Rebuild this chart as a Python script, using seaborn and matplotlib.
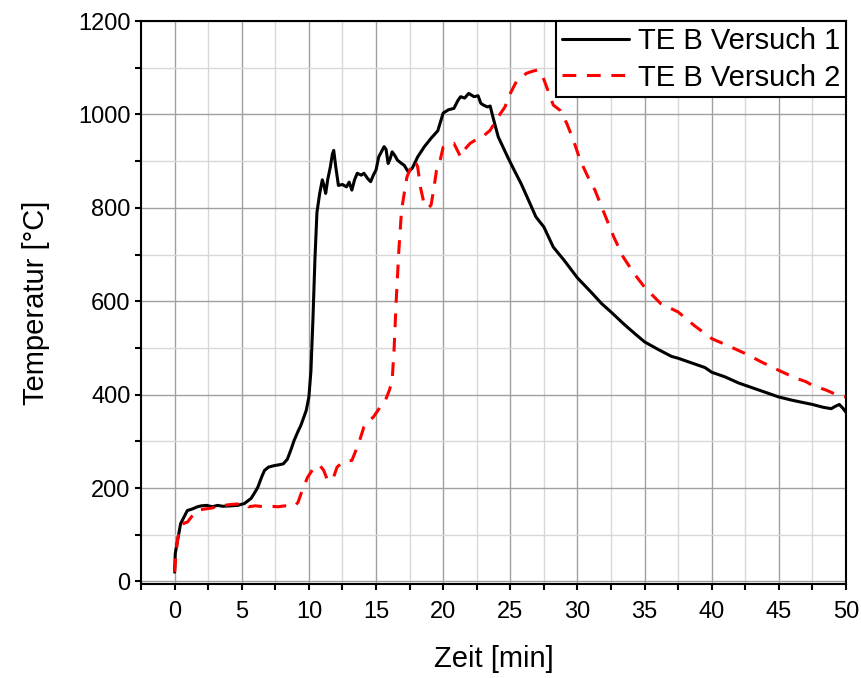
import numpy as np
import pandas as pd
import matplotlib
matplotlib.use('Agg')
import matplotlib.pyplot as plt
from matplotlib.ticker import MultipleLocator
import seaborn as sns

# TE B Versuch 1 (black, solid)
t1 = [0, 0.05, 0.2, 0.45, 0.95, 1.3, 1.7, 2.0, 2.4, 2.8, 3.2, 3.6, 4.2, 4.7, 5.2, 5.7, 6.0, 6.2, 6.5, 6.7,
      7.0, 7.4, 7.8, 8.1, 8.4, 8.7, 8.9, 9.2, 9.4, 9.6, 9.8, 10.0, 10.15, 10.3, 10.45, 10.6, 10.8, 11.0, 11.15, 11.25,
      11.4, 11.6, 11.75, 11.85, 12.0, 12.2, 12.5, 12.8, 13.0, 13.2, 13.4, 13.6, 13.9, 14.1, 14.4, 14.6, 14.8, 15.0, 15.2, 15.4,
      15.6, 15.75, 15.9, 16.05, 16.2, 16.4, 16.6, 16.9, 17.1, 17.4, 17.7, 18.1, 18.6, 19.1, 19.6, 20.0, 20.4, 20.8, 21.1, 21.3,
      21.6, 21.9, 22.3, 22.6, 22.8, 23.0, 23.3, 23.5, 23.7, 24.1, 24.8, 25.3, 25.8, 26.3, 26.9, 27.5, 28.2, 29.0, 30.0, 31.0,
      31.8, 32.5, 33.5, 34.3, 35.0, 36.0, 37.0, 37.5, 38.5, 39.5, 40.0, 41.0, 42.0, 42.5, 43.5, 44.5, 45.0, 46.0, 47.0, 47.5,
      48.3, 48.9, 49.2, 49.5, 49.8, 50.0]
temp1 = [20, 60, 85, 124, 152, 155, 160, 162, 163, 160, 163, 161, 162, 163, 167, 178, 192, 202, 225, 238,
         245, 248, 250, 252, 262, 285, 302, 322, 334, 350, 366, 395, 450, 560, 690, 790, 830, 860, 845, 831,
         860, 888, 915, 923, 888, 848, 850, 845, 855, 838, 860, 874, 870, 874, 862, 856, 870, 881, 909, 920,
         931, 925, 895, 905, 920, 912, 902, 895, 891, 877, 885, 909, 931, 949, 965, 1003, 1010, 1013, 1030, 1038,
         1035, 1045, 1038, 1040, 1024, 1020, 1016, 1018, 995, 952, 909, 880, 852, 820, 781, 759, 716, 688, 650, 620,
         595, 577, 550, 530, 513, 497, 482, 478, 468, 458, 448, 438, 425, 420, 410, 400, 395, 388, 382, 379,
         373, 370, 375, 379, 370, 362]

# TE B Versuch 2 (red, dashed)
t2 = [0, 0.1, 0.25, 0.45, 0.7, 0.95, 1.3, 1.7, 2.2, 2.7, 3.2, 3.7, 4.2, 4.7, 5.2, 5.5, 6.0, 6.7, 7.2, 7.7,
      8.2, 8.7, 9.0, 9.2, 9.5, 9.9, 10.4, 10.8, 11.1, 11.4, 11.8, 12.1, 12.5, 12.9, 13.2, 13.7, 14.1, 14.5, 14.8, 15.3,
      15.7, 16.0, 16.2, 16.35, 16.5, 16.7, 16.9, 17.1, 17.3, 17.5, 17.7, 17.9, 18.1, 18.3, 18.6, 18.9, 19.1, 19.3, 19.5, 19.8,
      20.0, 20.4, 20.8, 21.3, 21.6, 22.0, 22.4, 22.8, 23.5, 24.1, 24.6, 25.0, 25.5, 26.2, 26.6, 27.0, 27.3, 27.6, 28.2, 28.7,
      29.2, 29.7, 30.2, 30.9, 31.3, 31.9, 32.7, 33.4, 34.2, 35.0, 36.2, 37.5, 38.7, 40.0, 41.2, 42.5, 43.7, 45.0, 46.2, 47.0,
      47.5, 48.5, 49.3, 50.0]
temp2 = [20, 60, 95, 116, 125, 127, 140, 152, 155, 157, 160, 163, 165, 166, 167, 160, 162, 160, 161, 160,
         162, 160, 163, 170, 195, 223, 245, 249, 238, 216, 220, 245, 255, 259, 259, 295, 331, 345, 352, 373,
         388, 410, 430, 500, 600, 709, 795, 831, 866, 880, 895, 900, 888, 845, 806, 800, 806, 840, 880, 905,
         930, 935, 938, 909, 925, 938, 945, 949, 966, 995, 1016, 1045, 1073, 1088, 1092, 1095, 1090, 1067, 1020, 1009,
         981, 945, 902, 859, 838, 795, 738, 695, 660, 630, 595, 577, 548, 520, 505, 488, 470, 452, 436, 428,
         420, 410, 400, 395]

labels = ['TE B Versuch 1', 'TE B Versuch 2']

sns.set_style('white')
plt.rcParams['font.family'] = ['Liberation Sans', 'DejaVu Sans']
plt.rcParams['text.color'] = 'black'
plt.rcParams['axes.labelcolor'] = 'black'

fig = plt.figure(figsize=(8.61, 6.78), dpi=100)
ax = fig.add_axes([0.1638, 0.1382, 0.9826 - 0.1638, 0.969 - 0.1382])

sns.lineplot(x=t1, y=temp1, ax=ax, color='black', linewidth=2.2, label=labels[0])
sns.lineplot(x=t2, y=temp2, ax=ax, color='#ff0000', linewidth=2.2, linestyle=(0, (4.5, 3.5)), label=labels[1])

ax.set_xlim(-2.5, 50)
ax.set_ylim(-6, 1200)
ax.xaxis.set_major_locator(MultipleLocator(5))
ax.xaxis.set_minor_locator(MultipleLocator(2.5))
ax.yaxis.set_major_locator(MultipleLocator(200))
ax.yaxis.set_minor_locator(MultipleLocator(100))
ax.set_xticks([0, 5, 10, 15, 20, 25, 30, 35, 40, 45, 50])

ax.grid(which='major', color='#a0a0a0', linewidth=1)
ax.grid(which='minor', color='#d8d8d8', linewidth=1)
ax.set_axisbelow(True)

for s in ax.spines.values():
    s.set_color('black')
    s.set_linewidth(1.5)

ax.tick_params(axis='x', which='major', pad=8)
ax.tick_params(which='major', direction='out', length=4, width=1.5, labelsize=17,
               bottom=True, left=True, top=False, right=False, colors='black')
ax.tick_params(which='minor', direction='out', length=4, width=1.5,
               bottom=True, left=True, top=False, right=False, colors='black')

ax.set_xlabel('Zeit [min]', fontsize=21, labelpad=16)
ax.set_ylabel('Temperatur [°C]', fontsize=21, labelpad=20)

leg = ax.legend(loc='upper right', fontsize=21, frameon=True, fancybox=False,
                borderaxespad=0, handlelength=2.3, borderpad=0.2, labelspacing=0.3,
                handletextpad=0.3)
leg.get_frame().set_edgecolor('black')
leg.get_frame().set_linewidth(1.5)
leg.get_frame().set_alpha(1)
for txt in leg.get_texts():
    txt.set_color('black')

fig.savefig('out.png', dpi=100)
